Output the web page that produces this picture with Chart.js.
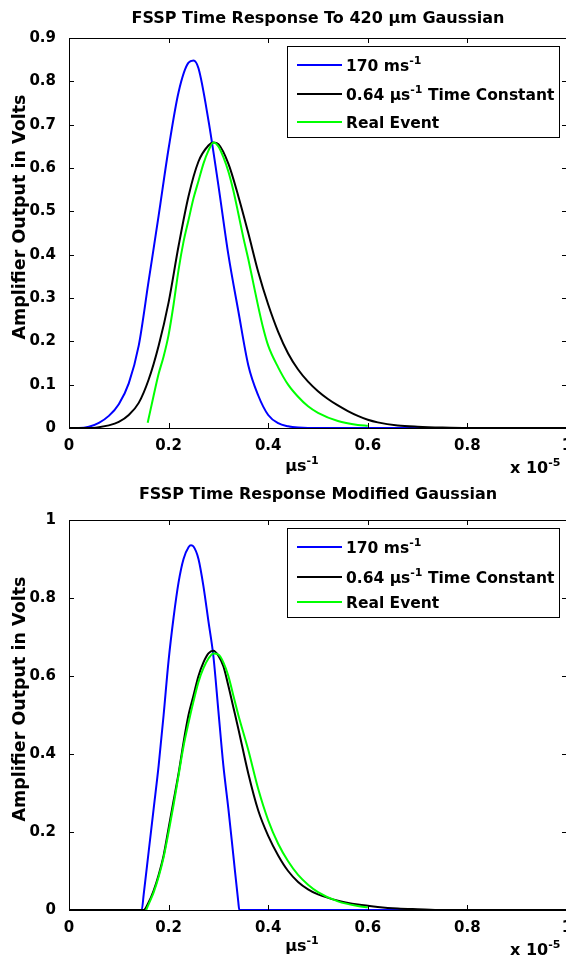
<!DOCTYPE html>
<html>
<head>
<meta charset="utf-8">
<script src="https://cdn.jsdelivr.net/npm/chart.js@4.4.0/dist/chart.umd.min.js"></script>
<style>
body { margin: 0; background: #fff; }
#wrap { position: relative; width: 566px; height: 964px; overflow: hidden; }
.box { position: absolute; left: 0; width: 572px; height: 482px; }
</style>
</head>
<body>
<div id="wrap">
  <div class="box" style="top:0"><canvas id="topChart" width="572" height="482"></canvas></div>
  <div class="box" style="top:482px"><canvas id="bottomChart" width="572" height="482"></canvas></div>
</div>
<script>
// series names and colours (same in both panels)
const seriesLabels = ['170 ms^{-1}', '0.64 \u00b5s^{-1} Time Constant', 'Real Event'];
const seriesColors = ['#0000ff', '#000000', '#00ff00'];

// axis ticks
const xTicks = [0, 0.2, 0.4, 0.6, 0.8, 1];
const topYTicks = [0, 0.1, 0.2, 0.3, 0.4, 0.5, 0.6, 0.7, 0.8, 0.9];
const bottomYTicks = [0, 0.2, 0.4, 0.6, 0.8, 1];

// top panel: 420 um gaussian
const topBlueX = [0, 0.02, 0.04, 0.06, 0.08, 0.10, 0.12, 0.14, 0.16, 0.18, 0.20, 0.22, 0.24, 0.25, 0.26, 0.28, 0.30, 0.32, 0.34, 0.36, 0.38, 0.40, 0.42, 0.44, 0.46, 0.48, 1.0];
const topBlueY = [0, 0.000, 0.003, 0.012, 0.028, 0.055, 0.103, 0.19, 0.34, 0.49, 0.645, 0.775, 0.843, 0.848, 0.83, 0.71, 0.56, 0.40, 0.27, 0.145, 0.075, 0.03, 0.011, 0.004, 0.001, 0, 0];

const topBlackX = [0, 0.04, 0.06, 0.08, 0.10, 0.12, 0.14, 0.16, 0.18, 0.20, 0.22, 0.24, 0.26, 0.28, 0.29, 0.30, 0.32, 0.34, 0.36, 0.38, 0.40, 0.42, 0.44, 0.46, 0.48, 0.50, 0.52, 0.54, 0.56, 0.58, 0.60, 0.62, 0.66, 0.70, 0.75, 0.80, 1.0];
const topBlackY = [0, 0, 0.002, 0.006, 0.014, 0.03, 0.058, 0.112, 0.19, 0.29, 0.42, 0.535, 0.615, 0.652, 0.659, 0.655, 0.61, 0.535, 0.45, 0.36, 0.285, 0.222, 0.172, 0.135, 0.107, 0.085, 0.067, 0.052, 0.039, 0.028, 0.019, 0.013, 0.006, 0.003, 0.001, 0, 0];

const topGreenX = [0.158, 0.17, 0.18, 0.19, 0.20, 0.21, 0.22, 0.23, 0.24, 0.25, 0.26, 0.27, 0.28, 0.29, 0.30, 0.31, 0.32, 0.33, 0.34, 0.35, 0.36, 0.37, 0.38, 0.39, 0.40, 0.42, 0.44, 0.46, 0.48, 0.50, 0.54, 0.58, 0.60];
const topGreenY = [0.012, 0.075, 0.125, 0.165, 0.215, 0.285, 0.365, 0.43, 0.48, 0.53, 0.57, 0.61, 0.64, 0.659, 0.65, 0.625, 0.592, 0.548, 0.495, 0.44, 0.39, 0.335, 0.28, 0.23, 0.19, 0.14, 0.10, 0.072, 0.05, 0.035, 0.016, 0.007, 0.005];

// bottom panel: modified gaussian
const botBlueX = [0, 0.146, 0.15, 0.16, 0.17, 0.18, 0.19, 0.20, 0.21, 0.22, 0.23, 0.24, 0.245, 0.25, 0.26, 0.27, 0.28, 0.29, 0.30, 0.31, 0.32, 0.33, 0.34, 0.342, 1.0];
const botBlueY = [0, 0, 0.04, 0.15, 0.26, 0.37, 0.50, 0.64, 0.75, 0.84, 0.90, 0.93, 0.935, 0.932, 0.90, 0.83, 0.74, 0.65, 0.51, 0.37, 0.26, 0.14, 0.02, 0, 0];

const botBlackX = [0, 0.15, 0.16, 0.17, 0.18, 0.19, 0.20, 0.21, 0.22, 0.23, 0.24, 0.25, 0.26, 0.27, 0.28, 0.29, 0.30, 0.31, 0.32, 0.33, 0.34, 0.36, 0.38, 0.40, 0.42, 0.44, 0.46, 0.48, 0.50, 0.54, 0.58, 0.62, 0.66, 0.70, 0.75, 1.0];
const botBlackY = [0, 0, 0.02, 0.05, 0.09, 0.14, 0.21, 0.28, 0.35, 0.43, 0.50, 0.55, 0.60, 0.635, 0.658, 0.665, 0.652, 0.625, 0.575, 0.52, 0.465, 0.35, 0.255, 0.19, 0.14, 0.10, 0.072, 0.053, 0.04, 0.024, 0.014, 0.008, 0.004, 0.002, 0, 0];

const botGreenX = [0.155, 0.16, 0.17, 0.18, 0.19, 0.20, 0.21, 0.22, 0.23, 0.24, 0.25, 0.26, 0.27, 0.28, 0.29, 0.30, 0.31, 0.32, 0.33, 0.34, 0.36, 0.38, 0.40, 0.42, 0.44, 0.46, 0.48, 0.50, 0.54, 0.58, 0.60];
const botGreenY = [0, 0.015, 0.045, 0.085, 0.135, 0.2, 0.27, 0.345, 0.42, 0.48, 0.535, 0.585, 0.62, 0.645, 0.658, 0.655, 0.635, 0.60, 0.55, 0.50, 0.41, 0.31, 0.23, 0.17, 0.125, 0.09, 0.065, 0.046, 0.022, 0.01, 0.007];

const FONT = '"DejaVu Sans", sans-serif';

function font(size, weight) {
    return (weight || 'bold') + ' ' + size + 'px ' + FONT;
}

// draws text with ^{..} superscripts
function drawRich(ctx, text, x, y, size, align) {
    const parts = [];
    const re = /\^\{([^}]*)\}/g;
    let last = 0, m;
    while ((m = re.exec(text)) !== null) {
        if (m.index > last) parts.push({ t: text.slice(last, m.index), sup: false });
        parts.push({ t: m[1], sup: true });
        last = re.lastIndex;
    }
    if (last < text.length) parts.push({ t: text.slice(last), sup: false });

    const supSize = Math.round(size * 0.68);
    let total = 0;
    parts.forEach(p => {
        ctx.font = font(p.sup ? supSize : size);
        p.w = ctx.measureText(p.t).width;
        total += p.w;
    });
    let cx = x;
    if (align === 'center') cx = x - total / 2;
    else if (align === 'right') cx = x - total;
    ctx.textAlign = 'left';
    ctx.textBaseline = 'alphabetic';
    parts.forEach(p => {
        ctx.font = font(p.sup ? supSize : size);
        ctx.fillText(p.t, cx, p.sup ? y - size * 0.45 : y);
        cx += p.w;
    });
}

// matlab style frame: box, inward ticks, titles, labels, legend
const matlabFrame = {
    id: 'matlabFrame',
    afterDraw(chart, args, opts) {
        const ctx = chart.ctx;
        const a = chart.chartArea;
        const xs = chart.scales.x, ys = chart.scales.y;
        ctx.save();
        ctx.strokeStyle = '#000';
        ctx.lineWidth = 1;
        ctx.strokeRect(Math.round(a.left) + 0.5, Math.round(a.top) + 0.5, Math.round(a.right - a.left), Math.round(a.bottom - a.top));

        ctx.beginPath();
        xs.ticks.forEach(t => {
            const px = Math.round(xs.getPixelForValue(t.value)) + 0.5;
            ctx.moveTo(px, a.bottom); ctx.lineTo(px, a.bottom - 5);
            ctx.moveTo(px, a.top); ctx.lineTo(px, a.top + 5);
        });
        ys.ticks.forEach(t => {
            const py = Math.round(ys.getPixelForValue(t.value)) + 0.5;
            ctx.moveTo(a.left, py); ctx.lineTo(a.left + 5, py);
            ctx.moveTo(a.right, py); ctx.lineTo(a.right - 5, py);
        });
        ctx.stroke();

        ctx.fillStyle = '#000';
        const mid = (a.left + a.right) / 2;
        drawRich(ctx, opts.title, mid, opts.titleY, 16, 'center');
        drawRich(ctx, '\u00b5s^{-1}', opts.xLabelX, opts.xLabelY, 16, 'center');
        drawRich(ctx, 'x 10^{-5}', opts.multX, opts.multY, 16, 'left');

        ctx.save();
        ctx.translate(opts.yLabelX, (a.top + a.bottom) / 2 - 16);
        ctx.rotate(-Math.PI / 2);
        drawRich(ctx, 'Amplifier Output in Volts', 0, 0, 17.5, 'center');
        ctx.restore();

        // legend
        const lx = opts.legendLeft, ly = a.top + opts.legendTop;
        ctx.fillStyle = '#fff';
        ctx.fillRect(lx, ly, opts.legendW, opts.legendH);
        ctx.strokeRect(lx + 0.5, ly + 0.5, opts.legendW, opts.legendH);
        chart.data.datasets.forEach((ds, i) => {
            const ey = ly + opts.legendRows[i];
            ctx.strokeStyle = ds.borderColor;
            ctx.lineWidth = 2;
            ctx.beginPath();
            ctx.moveTo(lx + 10, ey); ctx.lineTo(lx + 55, ey);
            ctx.stroke();
            ctx.fillStyle = '#000';
            drawRich(ctx, ds.label, lx + 59, ey + 6, 15.5, 'left');
        });
        ctx.restore();
    }
};

function series(xArr, yArr) {
    return xArr.map((x, i) => ({ x: x, y: yArr[i] }));
}

function makeChart(id, sets, yTicks, yMax, frameOpts) {
    const datasets = sets.map((s, i) => ({
        label: seriesLabels[i],
        data: s,
        borderColor: seriesColors[i],
        borderWidth: 2,
        pointRadius: 0,
        fill: false,
        cubicInterpolationMode: 'monotone',
        order: 2 - i
    }));
    return new Chart(document.getElementById(id), {
        type: 'line',
        data: { datasets: datasets },
        options: {
            responsive: false,
            animation: false,
            layout: { padding: { left: 29, right: 5, top: 38, bottom: 24 } },
            plugins: {
                legend: { display: false },
                tooltip: { enabled: false },
                matlabFrame: frameOpts
            },
            scales: {
                x: {
                    type: 'linear', min: 0, max: 1,
                    grid: { display: false },
                    border: { display: false },
                    afterBuildTicks: s => { s.ticks = xTicks.map(v => ({ value: v })); },
                    afterFit: s => { s.height = 30; s.paddingLeft = 0; s.paddingRight = 0; },
                    ticks: {
                        color: '#000', padding: 1, maxRotation: 0,
                        font: { family: FONT, size: 15, weight: 'bold' },
                        callback: v => String(+v.toFixed(1))
                    }
                },
                y: {
                    type: 'linear', min: 0, max: yMax,
                    grid: { display: false },
                    border: { display: false },
                    afterBuildTicks: s => { s.ticks = yTicks.map(v => ({ value: v })); },
                    afterFit: s => { s.width = 40; s.paddingTop = 0; s.paddingBottom = 0; },
                    ticks: {
                        color: '#000', padding: 5,
                        font: { family: FONT, size: 15, weight: 'bold' },
                        callback: v => String(+v.toFixed(1))
                    }
                }
            }
        },
        plugins: [matlabFrame]
    });
}

makeChart('topChart',
    [series(topBlueX, topBlueY), series(topBlackX, topBlackY), series(topGreenX, topGreenY)],
    topYTicks, 0.9,
    {
        title: 'FSSP Time Response To 420 \u00b5m Gaussian', titleY: 23,
        xLabelX: 302, xLabelY: 471, multX: 510, multY: 473, yLabelX: 25,
        legendLeft: 287, legendTop: 8, legendW: 272, legendH: 91, legendRows: [19, 48, 76]
    });

makeChart('bottomChart',
    [series(botBlueX, botBlueY), series(botBlackX, botBlackY), series(botGreenX, botGreenY)],
    bottomYTicks, 1,
    {
        title: 'FSSP Time Response Modified Gaussian', titleY: 17,
        xLabelX: 302, xLabelY: 469, multX: 510, multY: 473, yLabelX: 25,
        legendLeft: 287, legendTop: 8, legendW: 272, legendH: 89, legendRows: [19, 49, 74]
    });
</script>
</body>
</html>
